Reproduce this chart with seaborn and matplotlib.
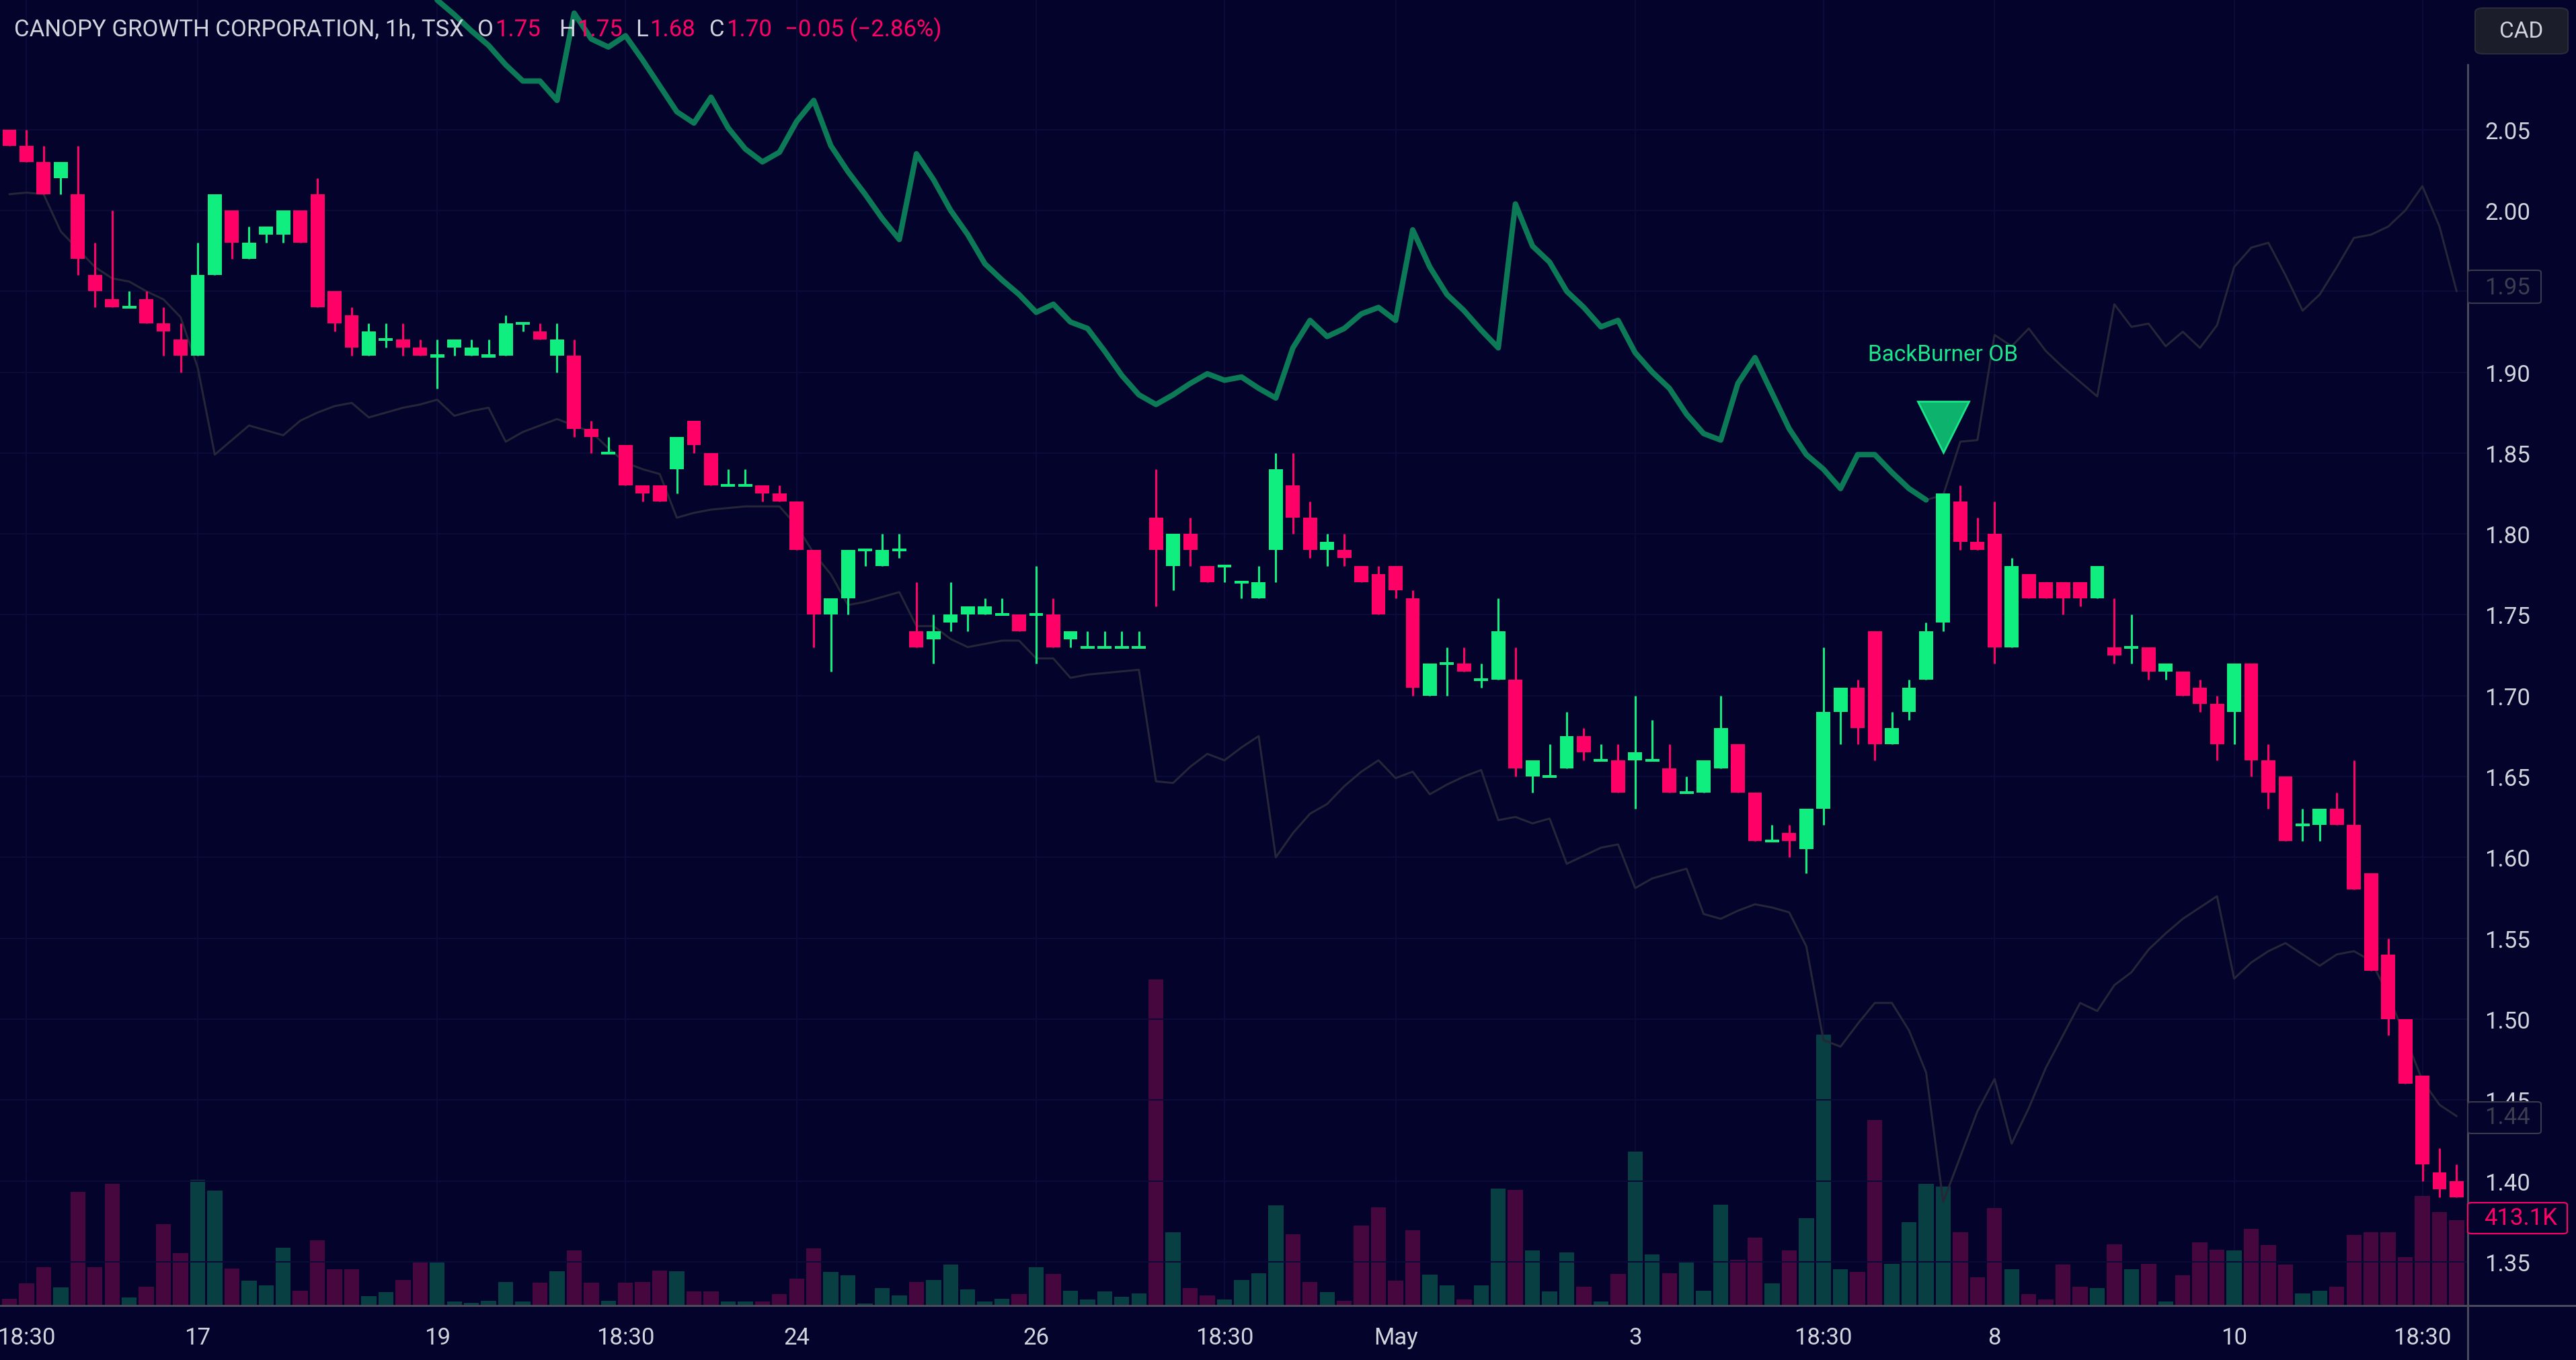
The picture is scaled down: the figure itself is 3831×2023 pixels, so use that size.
import numpy as np
import pandas as pd
import matplotlib
matplotlib.use("Agg")
import matplotlib.pyplot as plt
import seaborn as sns
from matplotlib.patches import FancyBboxPatch
from matplotlib.lines import Line2D

# ---------------- data ----------------
open_ = [2.05, 2.04, 2.03, 2.02, 2.01, 1.96, 1.945, 1.94, 1.945, 1.93,
         1.92, 1.91, 1.96, 2.00, 1.97, 1.985, 1.985, 2.00, 2.01, 1.95,
         1.935, 1.91, 1.92, 1.92, 1.915, 1.91, 1.915, 1.91, 1.91, 1.91,
         1.93, 1.925, 1.91, 1.91, 1.865, 1.85, 1.855, 1.83, 1.83, 1.84,
         1.87, 1.85, 1.83, 1.83, 1.83, 1.825, 1.82, 1.79, 1.75, 1.76,
         1.79, 1.78, 1.79, 1.74, 1.735, 1.745, 1.75, 1.75, 1.75, 1.75,
         1.75, 1.75, 1.735, 1.73, 1.73, 1.73, 1.73, 1.81, 1.78, 1.80,
         1.78, 1.78, 1.77, 1.76, 1.79, 1.83, 1.81, 1.79, 1.79, 1.78,
         1.775, 1.78, 1.76, 1.70, 1.72, 1.72, 1.71, 1.71, 1.71, 1.65,
         1.65, 1.655, 1.675, 1.66, 1.66, 1.66, 1.66, 1.655, 1.64, 1.64,
         1.655, 1.67, 1.64, 1.61, 1.615, 1.605, 1.63, 1.69, 1.705, 1.74,
         1.67, 1.69, 1.71, 1.745, 1.82, 1.795, 1.80, 1.73, 1.775, 1.77,
         1.77, 1.77, 1.76, 1.73, 1.73, 1.73, 1.715, 1.715, 1.705, 1.695,
         1.69, 1.72, 1.66, 1.65, 1.62, 1.62, 1.63, 1.62, 1.59, 1.54,
         1.50, 1.465, 1.405, 1.40]
high = [2.05, 2.05, 2.04, 2.03, 2.04, 1.98, 2.00, 1.95, 1.95, 1.94,
        1.93, 1.98, 2.01, 2.00, 1.99, 1.99, 2.00, 2.00, 2.02, 1.95,
        1.94, 1.93, 1.93, 1.93, 1.92, 1.92, 1.92, 1.92, 1.92, 1.935,
        1.93, 1.93, 1.93, 1.92, 1.87, 1.86, 1.855, 1.83, 1.83, 1.86,
        1.87, 1.85, 1.84, 1.84, 1.83, 1.83, 1.82, 1.79, 1.76, 1.79,
        1.79, 1.80, 1.80, 1.77, 1.75, 1.77, 1.755, 1.76, 1.76, 1.75,
        1.78, 1.76, 1.74, 1.74, 1.74, 1.74, 1.74, 1.84, 1.80, 1.81,
        1.78, 1.78, 1.77, 1.78, 1.85, 1.85, 1.82, 1.80, 1.80, 1.78,
        1.78, 1.78, 1.765, 1.72, 1.73, 1.73, 1.72, 1.76, 1.73, 1.66,
        1.67, 1.69, 1.68, 1.67, 1.67, 1.70, 1.685, 1.67, 1.65, 1.66,
        1.70, 1.67, 1.64, 1.62, 1.62, 1.63, 1.73, 1.705, 1.71, 1.74,
        1.69, 1.71, 1.745, 1.825, 1.83, 1.81, 1.82, 1.785, 1.775, 1.77,
        1.77, 1.77, 1.78, 1.76, 1.75, 1.73, 1.72, 1.715, 1.71, 1.70,
        1.72, 1.72, 1.67, 1.65, 1.63, 1.63, 1.64, 1.66, 1.59, 1.55,
        1.50, 1.465, 1.42, 1.41]
low = [2.04, 2.03, 2.01, 2.01, 1.96, 1.94, 1.94, 1.94, 1.93, 1.91,
       1.90, 1.91, 1.96, 1.97, 1.97, 1.98, 1.98, 1.98, 1.94, 1.925,
       1.91, 1.91, 1.915, 1.91, 1.91, 1.89, 1.91, 1.91, 1.91, 1.91,
       1.925, 1.92, 1.90, 1.86, 1.85, 1.85, 1.83, 1.82, 1.82, 1.825,
       1.85, 1.83, 1.83, 1.83, 1.82, 1.82, 1.79, 1.73, 1.715, 1.75,
       1.78, 1.78, 1.785, 1.73, 1.72, 1.74, 1.74, 1.75, 1.75, 1.74,
       1.72, 1.73, 1.73, 1.73, 1.73, 1.73, 1.73, 1.755, 1.765, 1.78,
       1.77, 1.77, 1.76, 1.76, 1.77, 1.80, 1.785, 1.78, 1.78, 1.77,
       1.75, 1.76, 1.70, 1.70, 1.70, 1.715, 1.705, 1.71, 1.65, 1.64,
       1.65, 1.655, 1.66, 1.66, 1.64, 1.63, 1.66, 1.64, 1.64, 1.64,
       1.655, 1.64, 1.61, 1.61, 1.60, 1.59, 1.62, 1.67, 1.67, 1.66,
       1.67, 1.685, 1.71, 1.74, 1.79, 1.79, 1.72, 1.73, 1.76, 1.76,
       1.75, 1.755, 1.76, 1.72, 1.72, 1.71, 1.71, 1.70, 1.69, 1.66,
       1.67, 1.65, 1.63, 1.61, 1.61, 1.61, 1.62, 1.58, 1.53, 1.49,
       1.46, 1.40, 1.39, 1.39]
close = [2.04, 2.03, 2.01, 2.03, 1.97, 1.95, 1.94, 1.94, 1.93, 1.925,
         1.91, 1.96, 2.01, 1.98, 1.98, 1.99, 2.00, 1.98, 1.94, 1.93,
         1.915, 1.925, 1.92, 1.915, 1.91, 1.91, 1.92, 1.915, 1.91, 1.93,
         1.93, 1.92, 1.92, 1.865, 1.86, 1.85, 1.83, 1.825, 1.82, 1.86,
         1.855, 1.83, 1.83, 1.83, 1.825, 1.82, 1.79, 1.75, 1.76, 1.79,
         1.79, 1.79, 1.79, 1.73, 1.74, 1.75, 1.755, 1.755, 1.75, 1.74,
         1.75, 1.73, 1.74, 1.73, 1.73, 1.73, 1.73, 1.79, 1.80, 1.79,
         1.77, 1.78, 1.77, 1.77, 1.84, 1.81, 1.79, 1.795, 1.785, 1.77,
         1.75, 1.765, 1.705, 1.72, 1.72, 1.715, 1.71, 1.74, 1.655, 1.66,
         1.65, 1.675, 1.665, 1.66, 1.64, 1.665, 1.66, 1.64, 1.64, 1.66,
         1.68, 1.64, 1.61, 1.61, 1.61, 1.63, 1.69, 1.705, 1.68, 1.67,
         1.68, 1.705, 1.74, 1.825, 1.795, 1.79, 1.73, 1.78, 1.76, 1.76,
         1.76, 1.76, 1.78, 1.725, 1.73, 1.715, 1.72, 1.70, 1.695, 1.67,
         1.72, 1.66, 1.64, 1.61, 1.62, 1.63, 1.62, 1.58, 1.53, 1.50,
         1.46, 1.41, 1.395, 1.39]
# volume in thousands of shares
volume_k = [31, 107, 184, 87, 549, 184, 588, 38, 92, 392,
            252, 608, 556, 180, 119, 97, 281, 73, 314, 177,
            174, 45, 64, 125, 216, 210, 18, 14, 24, 115,
            18, 109, 167, 265, 109, 24, 109, 115, 170, 165,
            67, 67, 21, 18, 21, 54, 129, 277, 162, 145,
            11, 84, 48, 115, 125, 197, 77, 21, 34, 54,
            184, 152, 73, 28, 67, 42, 57, 1576, 355, 84,
            48, 28, 122, 155, 485, 345, 115, 64, 24, 388,
            476, 119, 365, 148, 97, 28, 97, 566, 558, 265,
            67, 258, 90, 18, 152, 745, 248, 155, 210, 70,
            488, 222, 329, 107, 265, 421, 1310, 177, 162, 897,
            203, 404, 589, 575, 353, 135, 470, 177, 54, 28,
            197, 90, 84, 297, 174, 203, 21, 145, 306, 270,
            265, 371, 293, 197, 57, 73, 92, 342, 355, 355,
            235, 531, 453, 413]
# upper band (bars 24..143); green up to bar 112, grey afterwards
upper_start = 24
upper_green_last = 112
upper_band = [2.160, 2.130, 2.121, 2.111, 2.102, 2.090, 2.080, 2.080, 2.068, 2.122,
              2.106, 2.101, 2.108, 2.093, 2.077, 2.061, 2.054, 2.070, 2.051, 2.038,
              2.030, 2.036, 2.055, 2.068, 2.040, 2.024, 2.010, 1.995, 1.982, 2.035,
              2.019, 2.000, 1.985, 1.967, 1.957, 1.948, 1.937, 1.942, 1.931, 1.927,
              1.913, 1.898, 1.886, 1.880, 1.886, 1.893, 1.899, 1.895, 1.897, 1.890,
              1.884, 1.915, 1.932, 1.922, 1.927, 1.936, 1.940, 1.932, 1.988, 1.965,
              1.948, 1.938, 1.926, 1.915, 2.004, 1.978, 1.968, 1.950, 1.940, 1.928,
              1.932, 1.912, 1.900, 1.890, 1.874, 1.862, 1.858, 1.893, 1.909, 1.887,
              1.865, 1.849, 1.840, 1.828, 1.849, 1.849, 1.838, 1.828, 1.821, 1.824,
              1.857, 1.858, 1.923, 1.916, 1.927, 1.913, 1.903, 1.894, 1.885, 1.942,
              1.928, 1.930, 1.916, 1.925, 1.915, 1.929, 1.965, 1.977, 1.980, 1.960,
              1.938, 1.948, 1.965, 1.983, 1.985, 1.990, 2.000, 2.015, 1.990, 1.950]
# lower band (bars 0..143)
lower_band = [2.010, 2.011, 2.010, 1.987, 1.976, 1.965, 1.958, 1.956, 1.950, 1.945,
              1.934, 1.903, 1.849, 1.858, 1.867, 1.864, 1.861, 1.870, 1.875, 1.879,
              1.881, 1.872, 1.875, 1.878, 1.880, 1.883, 1.873, 1.876, 1.878, 1.857,
              1.863, 1.867, 1.871, 1.867, 1.863, 1.853, 1.844, 1.840, 1.837, 1.810,
              1.813, 1.815, 1.816, 1.817, 1.817, 1.817, 1.805, 1.788, 1.775, 1.756,
              1.758, 1.761, 1.764, 1.743, 1.743, 1.735, 1.730, 1.732, 1.734, 1.734,
              1.723, 1.723, 1.711, 1.713, 1.714, 1.715, 1.716, 1.647, 1.646, 1.656,
              1.664, 1.660, 1.668, 1.675, 1.600, 1.615, 1.627, 1.633, 1.644, 1.653,
              1.660, 1.649, 1.653, 1.639, 1.645, 1.650, 1.654, 1.623, 1.625, 1.621,
              1.624, 1.596, 1.601, 1.606, 1.608, 1.581, 1.587, 1.590, 1.593, 1.565,
              1.562, 1.567, 1.571, 1.569, 1.566, 1.545, 1.487, 1.483, 1.497, 1.510,
              1.510, 1.493, 1.467, 1.387, 1.415, 1.443, 1.463, 1.423, 1.445, 1.470,
              1.490, 1.510, 1.505, 1.521, 1.529, 1.543, 1.553, 1.562, 1.569, 1.576,
              1.525, 1.535, 1.542, 1.547, 1.540, 1.533, 1.540, 1.542, 1.536, 1.515,
              1.489, 1.462, 1.447, 1.440]
time_tick_bars = [1, 11, 25, 36, 46, 60, 71, 81, 95, 106, 116, 130, 141]
time_tick_labels = ["18:30", "17", "19", "18:30", "24", "26", "18:30", "May",
                    "3", "18:30", "8", "10", "18:30"]
price_ticks = [1.35, 1.40, 1.45, 1.50, 1.55, 1.60, 1.65, 1.70, 1.75, 1.80,
               1.85, 1.90, 1.95, 2.00, 2.05]
signal_bar = [113]
signal_price = [1.866]
signal_label_price = [1.911]
signal_label = "BackBurner OB"
header_title = "CANOPY GROWTH CORPORATION, 1h, TSX"
header_fields = [("O", "1.75"), ("H", "1.75"), ("L", "1.68"), ("C", "1.70")]
header_change = "\u22120.05 (\u22122.86%)"
upper_last_label = "1.95"
lower_last_label = "1.44"
volume_last_label = "413.1K"

# ---------------- style ----------------
W, H, DPI = 3831, 2024, 100
BG = "#03032c"
GRID = "#0b0b39"
GREEN = "#10ee80"
RED = "#ff0066"
VOL_GREEN = "#083f42"
VOL_RED = "#46073f"
BAND_GREEN = "#0c7a56"
BAND_GREY = "#262638"
AXIS_LINE = "#4a4a5a"
TXT = "#d1d4dc"
FONT = ["Roboto", "DejaVu Sans"]

sns.set_theme(style="dark")
plt.rcParams["font.family"] = FONT
plt.rcParams["axes.facecolor"] = BG
plt.rcParams["figure.facecolor"] = BG

fig = plt.figure(figsize=(W / DPI, H / DPI), dpi=DPI, facecolor=BG)

PLOT_RIGHT = 3670
PLOT_BOTTOM = 1943
ax_vol = fig.add_axes([0, (H - PLOT_BOTTOM) / H, PLOT_RIGHT / W, PLOT_BOTTOM / H])
ax_vol.set_facecolor(BG)
ax = ax_vol.twinx()

n = len(open_)
bars = np.arange(n)
o = np.array(open_); c = np.array(close); hi = np.array(high); lo = np.array(low)
up = c >= o

# volume (seaborn bars on the back axes)
vol_df = pd.DataFrame({"bar": bars, "vol": volume_k,
                       "dir": np.where(up, "up", "down")})
sns.barplot(data=vol_df, x="bar", y="vol", hue="dir",
            palette={"up": VOL_GREEN, "down": VOL_RED}, native_scale=True,
            dodge=False, width=0.88, saturation=1, linewidth=0,
            errorbar=None, legend=False, ax=ax_vol, zorder=2)

XMIN, XMAX = -0.55, 143.65
ax_vol.set_xlim(XMIN, XMAX)
ax_vol.set_ylim(0, PLOT_BOTTOM * 3.25)
ax_vol.set_yticks([])
ax_vol.set_xlabel(""); ax_vol.set_ylabel("")
ax_vol.set_xticks(time_tick_bars)
ax_vol.set_xticklabels(time_tick_labels)
ax_vol.tick_params(axis="x", length=0, pad=22, labelsize=25, colors=TXT)
ax_vol.grid(axis="x", color=GRID, linewidth=1.5, zorder=0)
ax_vol.grid(axis="y", visible=False)
for s in ax_vol.spines.values():
    s.set_visible(False)

# bands
up_bars = np.arange(upper_start, upper_start + len(upper_band))
ub = np.array(upper_band)
k = upper_green_last - upper_start + 1
sns.lineplot(x=up_bars[k - 1:], y=ub[k - 1:], ax=ax, color=BAND_GREY,
             linewidth=2.2, zorder=2)
sns.lineplot(x=bars, y=lower_band, ax=ax, color=BAND_GREY, linewidth=2.2, zorder=2)
sns.lineplot(x=up_bars[:k], y=ub[:k], ax=ax, color=BAND_GREEN, linewidth=5.8,
             zorder=3, solid_capstyle="round", solid_joinstyle="round")

# candles
cols = np.where(up, GREEN, RED)
b_lo = np.minimum(o, c); b_hi = np.maximum(o, c)
min_h = 0.0017
b_h = np.maximum(b_hi - b_lo, min_h)
b_bot = np.where(b_hi - b_lo < min_h, (b_lo + b_hi) / 2 - min_h / 2, b_lo)
ax.vlines(bars, lo, hi, colors=cols, linewidth=2.2, zorder=4)
ax.bar(bars, b_h, bottom=b_bot, width=0.82, color=cols, linewidth=0, zorder=5)

# signal marker
ax.plot(signal_bar, signal_price, marker="v", linestyle="none", markersize=55,
        markerfacecolor="#0db36d", markeredgecolor="#19e68a", markeredgewidth=2,
        zorder=6)
ax.text(signal_bar[0], signal_label_price[0], signal_label, ha="center",
        va="center", color="#19e68a", fontsize=24, zorder=6)

YMIN, YMAX = 1.3229, 2.1305
ax.set_ylim(YMIN, YMAX)
ax.set_xlim(XMIN, XMAX)
ax.set_yticks(price_ticks)
ax.set_yticklabels(["" if abs(p - 1.95) < 1e-6 else f"{p:.2f}" for p in price_ticks])
ax.tick_params(axis="y", length=0, pad=18, labelsize=25, colors=TXT)
ax.grid(axis="y", color=GRID, linewidth=1.5, zorder=0)
ax.grid(axis="x", visible=False)
ax.set_xlabel(""); ax.set_ylabel("")
for s in ax.spines.values():
    s.set_visible(False)

# axis lines
fig.add_artist(Line2D([PLOT_RIGHT / W] * 2, [0, 1 - 97 / H], color=AXIS_LINE,
                      linewidth=2.2, transform=fig.transFigure))
fig.add_artist(Line2D([0, 1], [1 - PLOT_BOTTOM / H] * 2, color=AXIS_LINE,
                      linewidth=2.2, transform=fig.transFigure))


def px_box(x0, y0, x1, y1, fc, ec, lw=1.5, rounding=6):
    fig.add_artist(FancyBboxPatch((x0 / W, 1 - y1 / H), (x1 - x0) / W, (y1 - y0) / H,
                                  boxstyle=f"round,pad=0,rounding_size={rounding / W}",
                                  transform=fig.transFigure, facecolor=fc,
                                  edgecolor=ec, linewidth=lw, zorder=10))


def px_text(x, y, s, color, size, ha="left", **kw):
    return fig.text(x / W, 1 - y / H, s, color=color, fontsize=size, ha=ha,
                    va="center", zorder=11, **kw)


# last-value boxes on the price scale
px_box(3670, 403, 3779, 452, BG, "#3a3a4a")
px_text(3695, 428, upper_last_label, "#3d3d50", 25)
px_box(3670, 1640, 3779, 1687, BG, "#3a3a4a")
px_text(3695, 1663, lower_last_label, "#3d3d50", 25)
px_box(3670, 1790, 3818, 1836, BG, RED)
px_text(3694, 1813, volume_last_label, RED, 25)
px_box(3681, 13, 3819, 81, "#1b1d2a", "#2a2c3a", rounding=12)
px_text(3750, 47, "CAD", TXT, 24, ha="center")

# header legend: title, then label/value pairs packed left to right
renderer = fig.canvas.get_renderer()
HY, HFS = 44, 25
px_text(21, HY, header_title, TXT, HFS)
field_x = [710, 831, 945, 1055]
for (lab, val), x in zip(header_fields, field_x):
    t = px_text(x, HY, lab, TXT, HFS)
    x_end = t.get_window_extent(renderer).x1
    px_text(x_end + 2, HY, val, RED, HFS)
px_text(1167, HY, header_change, RED, HFS)

fig.savefig("out.png", dpi=DPI, facecolor=BG)
